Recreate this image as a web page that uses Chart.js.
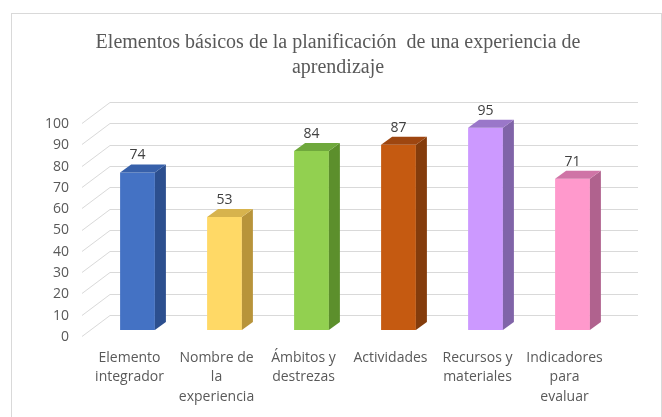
<!DOCTYPE html>
<html>
<head>
<meta charset="utf-8">
<script src="https://cdn.jsdelivr.net/npm/chart.js@4/dist/chart.umd.min.js"></script>
<style>
  body { margin: 0; background: #fff; }
  #wrap { width: 662px; height: 417px; position: relative; }
</style>
</head>
<body>
<div id="wrap"><canvas id="chart" width="662" height="417"></canvas></div>
<script>
// datos del grafico
var categorias = [
  ["Elemento", "integrador"],
  ["Nombre de", "la", "experiencia"],
  ["Ámbitos y", "destrezas"],
  ["Actividades"],
  ["Recursos y", "materiales"],
  ["Indicadores", "para", "evaluar"]
];
var valores = [74, 53, 84, 87, 95, 71];
var titulo = ["Elementos básicos de la planificación  de una experiencia de", "aprendizaje"];

// colores: frente, lado, tapa
var colFrente = ["#4472C4", "#FFD966", "#92D050", "#C55A11", "#CC99FF", "#FF99CC"];
var colLado   = ["#2C4F8F", "#B8943A", "#5C8F2C", "#843C0C", "#8064A8", "#B0628E"];
var colTapa   = ["#3760AA", "#D7B34D", "#6FA83C", "#9E4610", "#9A77C9", "#CF74A6"];

// profundidad de la barra y de la pared
var prof = { dx: 11, dy: -8 };
var pared = { dx: 16, dy: -15, fx: -28, fy: 21, ext: 22 };

var marco = {
  id: 'marco',
  beforeDraw: function (chart) {
    var ctx = chart.ctx;
    ctx.save();
    ctx.fillStyle = '#ffffff';
    ctx.fillRect(0, 0, chart.width, chart.height);
    ctx.strokeStyle = '#d9d9d9';
    ctx.lineWidth = 1;
    ctx.strokeRect(11.5, 13.5, chart.width - 12, chart.height + 5);
    ctx.restore();
  }
};

// lineas de la pared del fondo y del lateral
var paredFondo = {
  id: 'paredFondo',
  beforeDatasetsDraw: function (chart) {
    var ctx = chart.ctx;
    var area = chart.chartArea;
    var y = chart.scales.y;
    ctx.save();
    ctx.strokeStyle = '#d9d9d9';
    ctx.lineWidth = 1;
    y.ticks.forEach(function (t) {
      var py = Math.round(y.getPixelForValue(t.value) + pared.dy) + 0.5;
      var x0 = area.left + pared.dx;
      ctx.beginPath();
      ctx.moveTo(x0 + pared.fx, py + pared.fy);
      ctx.lineTo(x0, py);
      ctx.lineTo(area.right + pared.ext, py);
      ctx.stroke();
    });
    ctx.restore();
  }
};

// caras laterales, tapas y etiquetas de valor
var barras3d = {
  id: 'barras3d',
  afterDatasetsDraw: function (chart) {
    var ctx = chart.ctx;
    var meta = chart.getDatasetMeta(0);
    ctx.save();
    meta.data.forEach(function (bar, i) {
      var w = bar.width / 2;
      var xl = bar.x - w, xr = bar.x + w;
      var top = bar.y, base = bar.base;

      ctx.fillStyle = colLado[i];
      ctx.beginPath();
      ctx.moveTo(xr, top);
      ctx.lineTo(xr + prof.dx, top + prof.dy);
      ctx.lineTo(xr + prof.dx, base + prof.dy);
      ctx.lineTo(xr, base);
      ctx.closePath();
      ctx.fill();

      ctx.fillStyle = colTapa[i];
      ctx.beginPath();
      ctx.moveTo(xl, top);
      ctx.lineTo(xl + prof.dx, top + prof.dy);
      ctx.lineTo(xr + prof.dx, top + prof.dy);
      ctx.lineTo(xr, top);
      ctx.closePath();
      ctx.fill();

      ctx.fillStyle = '#404040';
      ctx.font = '14px "Open Sans"';
      ctx.textAlign = 'center';
      ctx.textBaseline = 'middle';
      ctx.fillText(valores[i], bar.x, top - 17);
    });
    ctx.restore();
  }
};

var ctx = document.getElementById('chart').getContext('2d');
var chart = new Chart(ctx, {
  type: 'bar',
  data: {
    labels: categorias,
    datasets: [{
      data: valores,
      backgroundColor: colFrente,
      borderWidth: 0,
      barPercentage: 0.4,
      categoryPercentage: 1.0
    }]
  },
  options: {
    responsive: false,
    animation: false,
    devicePixelRatio: 1,
    layout: { padding: { left: 30, right: 16, top: 0, bottom: 0 } },
    plugins: {
      legend: { display: false },
      tooltip: { enabled: false },
      title: {
        display: true,
        text: titulo,
        color: '#595959',
        font: { family: '"Liberation Serif"', size: 20, weight: 'normal', lineHeight: 1.25 },
        padding: { top: 30, bottom: 37 }
      }
    },
    scales: {
      x: {
        grid: { display: false, drawTicks: false },
        border: { display: false },
        ticks: {
          color: '#595959',
          font: { family: '"Open Sans"', size: 14, lineHeight: 1.4 },
          padding: 18,
          labelOffset: -8,
          maxRotation: 0,
          autoSkip: false
        },
        afterFit: function (s) { s.height = 87; }
      },
      y: {
        min: 0,
        max: 100,
        grid: { display: false, drawTicks: false },
        border: { display: false },
        ticks: {
          stepSize: 10,
          color: '#595959',
          font: { family: '"Open Sans"', size: 14 },
          padding: 25,
          labelOffset: 7
        },
        afterFit: function (s) { s.width = 64; }
      },
      derecha: {
        position: 'right',
        grid: { display: false, drawTicks: false },
        border: { display: false },
        ticks: { display: false },
        afterFit: function (s) { s.width = 30; }
      }
    }
  },
  plugins: [marco, paredFondo, barras3d]
});
</script>
</body>
</html>
